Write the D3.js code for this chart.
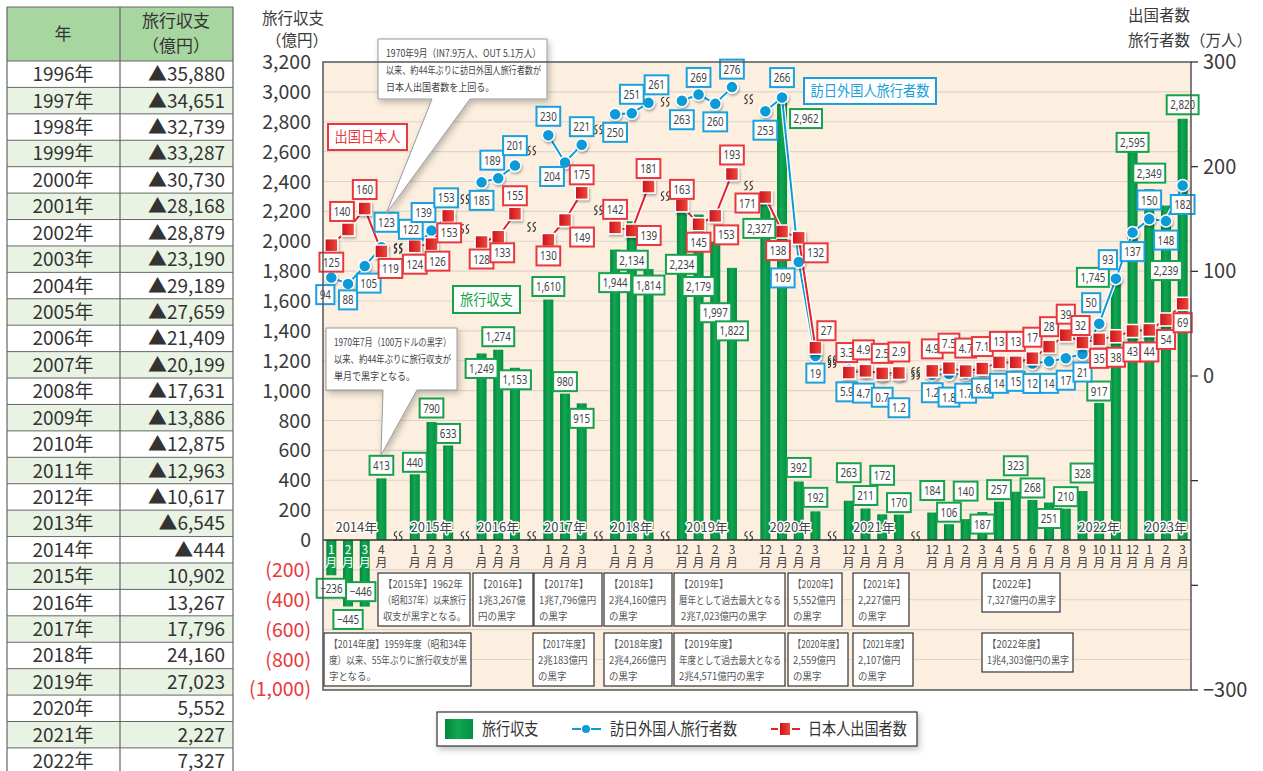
<!DOCTYPE html>
<html><head><meta charset="utf-8">
<script src="https://cdn.jsdelivr.net/npm/d3@7"></script>
<style>
body{margin:0;background:#fff;}
svg{display:block;font-family:"Noto Sans CJK JP","Noto Sans",sans-serif;}
</style></head><body>
<svg id="chart" width="1263" height="771"></svg>
<script>
//-----------------------------------------------------------------------------
// DATA
var tableYears = ["1996年","1997年","1998年","1999年","2000年","2001年","2002年","2003年","2004年",
  "2005年","2006年","2007年","2008年","2009年","2010年","2011年","2012年","2013年","2014年",
  "2015年","2016年","2017年","2018年","2019年","2020年","2021年","2022年"];
var tableBalance = ["▲35,880","▲34,651","▲32,739","▲33,287","▲30,730","▲28,168","▲28,879","▲23,190",
  "▲29,189","▲27,659","▲21,409","▲20,199","▲17,631","▲13,886","▲12,875","▲12,963","▲10,617",
  "▲6,545","▲444","10,902","13,267","17,796","24,160","27,023","5,552","2,227","7,327"];

var monthKeys = ["2014/1","2014/2","2014/3","2014/4",
  "2015/1","2015/2","2015/3",
  "2016/1","2016/2","2016/3",
  "2017/1","2017/2","2017/3",
  "2018/1","2018/2","2018/3",
  "2018/12","2019/1","2019/2","2019/3",
  "2019/12","2020/1","2020/2","2020/3",
  "2020/12","2021/1","2021/2","2021/3",
  "2021/12","2022/1","2022/2","2022/3","2022/4","2022/5","2022/6","2022/7","2022/8","2022/9",
  "2022/10","2022/11","2022/12","2023/1","2023/2","2023/3"];
var breakAfter = ["2014/4","2015/3","2016/3","2017/3","2018/3","2019/3","2020/3","2021/3"];

// 旅行収支（億円）
var balance = [-236,-445,-446,413, 440,790,633, 1249,1274,1153, 1610,980,915, 1944,2134,1814,
  2234,2179,1997,1822, 2327,2962,392,192, 263,211,172,170,
  184,106,140,187,257,323,268,251,210,328,917,1745,2595, 2349,2239,2820];
// 訪日外国人旅行者数（万人）
var visitors = [94,88,105,123, 122,139,153, 185,189,201, 230,204,221, 250,251,261,
  263,269,260,276, 253,266,109,19, 5.9,4.7,0.7,1.2,
  1.2,1.8,1.7,6.6,14,15,12,14,17,21,50,93,137, 150,148,182];
// 日本人出国者数（万人）
var outbound = [125,140,160,119, 124,126,153, 128,133,155, 130,149,175, 142,139,181,
  163,145,153,193, 171,138,132,27, 3.3,4.9,2.5,2.9,
  4.9,7.5,4.7,7.1,13,13,17,28,39,32,35,38,43, 44,54,69];

var yearLabels = [["2014年","2014/2","2014/3"],["2015年","2015/2","2015/2"],["2016年","2016/2","2016/2"],
  ["2017年","2017/2","2017/2"],["2018年","2018/2","2018/2"],["2019年","2019/1","2019/2"],
  ["2020年","2020/1","2020/2"],["2021年","2021/1","2021/2"],["2022年","2022/10","2022/10"],
  ["2023年","2023/2","2023/2"]];

var leftTicks = [3200,3000,2800,2600,2400,2200,2000,1800,1600,1400,1200,1000,800,600,400,200,0,
  -200,-400,-600,-800,-1000];
var rightTicks = [300,200,100,0,-100,-200,-300];
var rightLabelled = [300,200,100,0,-300];

var noteBoxes = [
  {x0:378,x1:470,y0:573,y1:626,lines:["【2015年】1962年","（昭和37年）以来旅行","収支が黒字となる。"]},
  {x0:473,x1:533,y0:573,y1:626,lines:["【2016年】","1兆3,267億","円の黒字"]},
  {x0:534,x1:602,y0:573,y1:626,lines:["【2017年】","1兆7,796億円","の黒字"]},
  {x0:604,x1:672,y0:573,y1:626,lines:["【2018年】","2兆4,160億円","の黒字"]},
  {x0:674,x1:785,y0:573,y1:626,lines:["【2019年】","暦年として過去最大となる"," 2兆7,023億円の黒字"]},
  {x0:788,x1:842,y0:573,y1:626,lines:["【2020年】","5,552億円","の黒字"]},
  {x0:853,x1:909,y0:573,y1:626,lines:["【2021年】","2,227億円","の黒字"]},
  {x0:982,x1:1060,y0:573,y1:612,lines:["【2022年】","7,327億円の黒字"]},
  {x0:324,x1:471,y0:633,y1:686,lines:["【2014年度】1959年度（昭和34年","度）以来、55年ぶりに旅行収支が黒","字となる。"]},
  {x0:533,x1:594,y0:633,y1:686,lines:["【2017年度】","2兆183億円","の黒字"]},
  {x0:604,x1:672,y0:633,y1:686,lines:["【2018年度】","2兆4,266億円","の黒字"]},
  {x0:674,x1:785,y0:633,y1:686,lines:["【2019年度】","年度として過去最大となる","2兆4,571億円の黒字"]},
  {x0:788,x1:848,y0:633,y1:686,lines:["【2020年度】","2,559億円","の黒字"]},
  {x0:853,x1:913,y0:633,y1:686,lines:["【2021年度】","2,107億円","の黒字"]},
  {x0:982,x1:1073,y0:633,y1:672,lines:["【2022年度】","1兆4,303億円の黒字"]}
];

//-----------------------------------------------------------------------------
// LABEL PLACEMENT (offsets from the mark, px)
var barLabelOff = [[0,13],[0,13],[-4,-15],[0,-13], [0,-12],[0,-14],[0,-12], [0,15],[0,-13],[0,12],
  [0,-13],[0,-12],[0,15], [0,33],[0,39],[0,16], [0,58],[0,72],[0,71],[0,63],
  [-6,36],[24,21],[0,-14],[0,-14], [0,-28],[0,-13],[0,-39],[0,-12],
  [0,-22],[0,-12],[0,-28],[0,12],[0,-12],[0,-26],[0,-12],[0,16],[0,-12],[0,-18],[0,-12],[-23,-2],[0,-10],
  [0,-16],[0,65],[0,-14]];
var visLabelOff = [[-6,17],[0,16],[4,17],[5,-25], [-4,-19],[-8,-18],[-2,-18], [0,18],[-6,-18],[0,-20],
  [0,-19],[-13,14],[0,-18], [0,18],[0,-19],[8,-18], [0,19],[0,-17],[0,18],[0,-18],
  [0,19],[0,-20],[-16,16],[0,17], [-2,22],[-2,22],[0,22],[0,33],
  [0,18],[0,23],[0,19],[0,19],[0,22],[0,21],[0,20],[0,22],[0,22],[0,18],[-8,-21],[-8,-19],[0,19],
  [0,-19],[0,19],[0,19]];
var outLabelOff = [[0,17],[-6,-18],[0,-19],[9,17], [0,18],[6,17],[1,17], [0,17],[4,16],[0,-18],
  [0,16],[17,17],[0,-18], [0,-18],[17,5],[0,-18], [0,-16],[0,18],[11,19],[0,-19],
  [-18,6],[-4,19],[17,15],[11,-17], [-2,-20],[-2,-21],[0,-20],[0,-21],
  [0,-22],[0,-25],[0,-23],[0,-22],[0,-21],[0,-21],[0,-21],[0,-20],[0,-21],[-2,-17],[0,19],[0,21],[0,21],
  [0,22],[0,20],[0,19]];

//-----------------------------------------------------------------------------
// SETUP
var GREEN = "#009a44", BLUE = "#0c9bd8", RED = "#e3222a";
var GREEN_B = "#17a14a", BLUE_B = "#1ca0dc", RED_B = "#e8383d";
var numFont = "'Noto Sans', sans-serif";
var P = {l:323, r:1191, t:62, b:690};

var svg = d3.select("#chart");
var defs = svg.append("defs");
defs.append("filter").attr("id","shadow").attr("x","-20%").attr("y","-20%").attr("width","150%").attr("height","170%")
  .append("feDropShadow").attr("dx",2).attr("dy",3).attr("stdDeviation",3)
  .attr("flood-color","#000").attr("flood-opacity",0.25);
defs.append("filter").attr("id","mshadow").attr("x","-50%").attr("y","-50%").attr("width","200%").attr("height","200%")
  .append("feDropShadow").attr("dx",1).attr("dy",2).attr("stdDeviation",1.3)
  .attr("flood-color","#000").attr("flood-opacity",0.3);
var gg = defs.append("linearGradient").attr("id","barGrad").attr("x1",0).attr("x2",1).attr("y1",0).attr("y2",0);
gg.append("stop").attr("offset","0%").attr("stop-color","#00873c");
gg.append("stop").attr("offset","45%").attr("stop-color","#13a652");
gg.append("stop").attr("offset","100%").attr("stop-color","#009142");
var rg = defs.append("linearGradient").attr("id","redGrad").attr("x1",0).attr("x2",1).attr("y1",0).attr("y2",0);
rg.append("stop").attr("offset","0%").attr("stop-color","#c8121c");
rg.append("stop").attr("offset","100%").attr("stop-color","#f04b3c");

function squeeze(t, f, maxW){
  var L = t.node().getComputedTextLength();
  var w = L*f;
  if (maxW && w > maxW) w = maxW;
  t.attr("textLength", w).attr("lengthAdjust","spacingAndGlyphs");
  return w;
}
// several lines in one text element, each line squeezed on its own
function multiLine(parent, x, y, step, lines, size, color, f, maxW){
  var t = parent.append("text").attr("font-size",size).attr("fill",color);
  lines.forEach(function(s,j){
    var ts = t.append("tspan").attr("x",x).attr("y",y+j*step).text(s);
    squeeze(ts, f, maxW);
  });
  return t;
}

//-----------------------------------------------------------------------------
// TABLE
var tb = svg.append("g");
var tX0 = 7, tX1 = 120, tX2 = 233, tY0 = 7, tHead = 61, rowH = 26.42;
tb.append("rect").attr("x",tX0).attr("y",tY0).attr("width",tX2-tX0).attr("height",tHead-tY0).attr("fill","#a8d6a0");
tableYears.forEach(function(yr,i){
  var y = tHead + i*rowH;
  tb.append("rect").attr("x",tX0).attr("y",y).attr("width",tX2-tX0).attr("height",rowH)
    .attr("fill", i%2 ? "#e8f3e3" : "#fff");
  tb.append("text").attr("x",63).attr("y",y+rowH/2+7).attr("text-anchor","middle")
    .attr("font-size",19).attr("fill","#333").text(yr);
  tb.append("text").attr("x",225).attr("y",y+rowH/2+7).attr("text-anchor","end")
    .attr("font-size",19).attr("fill","#333").text(tableBalance[i]);
  tb.append("line").attr("x1",tX0).attr("x2",tX2).attr("y1",y).attr("y2",y).attr("stroke","#666").attr("stroke-width",1);
});
[tX0,tX1,tX2].forEach(function(x){
  tb.append("line").attr("x1",x).attr("x2",x).attr("y1",tY0).attr("y2",800).attr("stroke","#666").attr("stroke-width",1.2);
});
tb.append("line").attr("x1",tX0).attr("x2",tX2).attr("y1",tY0).attr("y2",tY0).attr("stroke","#666").attr("stroke-width",1.2);
tb.append("text").attr("x",63).attr("y",40).attr("text-anchor","middle").attr("font-size",17).attr("fill","#333").text("年");
var th = tb.append("text").attr("text-anchor","middle").attr("font-size",17).attr("fill","#333");
th.append("tspan").attr("x",176).attr("y",27).text("旅行収支");
th.append("tspan").attr("x",176).attr("y",52).text("（億円）");

//-----------------------------------------------------------------------------
// SCALES
var slots = [];
var breakSlots = [];
monthKeys.forEach(function(k){
  slots.push(k);
  if (breakAfter.indexOf(k) >= 0){ var b = "brk" + breakSlots.length; breakSlots.push(b); slots.push(b); }
});
var x = d3.scaleBand().domain(slots).range([P.l, P.r]).padding(0);
var xc = function(k){ return x(k) + x.bandwidth()/2; };
var yL = d3.scaleLinear().domain([-1000, 3200]).range([689.4, 62]);
var yR = d3.scaleLinear().domain([-300, 300]).range([690, 62]);

//-----------------------------------------------------------------------------
// PLOT BACKGROUND + GRID
svg.append("rect").attr("x",P.l).attr("y",P.t).attr("width",P.r-P.l).attr("height",P.b-P.t).attr("fill","#fcefdf");
svg.append("g").selectAll("line").data(leftTicks.filter(function(v){ return v!==0 && v!==3200 && v!==-1000; }))
  .join("line").attr("x1",P.l).attr("x2",P.r).attr("y1",function(v){return yL(v);}).attr("y2",function(v){return yL(v);})
  .attr("stroke","#dcd5ce").attr("stroke-width",1.2);

// notes in the lower band
var nb = svg.append("g");
noteBoxes.forEach(function(n){
  nb.append("rect").attr("x",n.x0).attr("y",n.y0).attr("width",n.x1-n.x0).attr("height",n.y1-n.y0)
    .attr("fill","#fff").attr("stroke","#333").attr("stroke-width",1.2);
  multiLine(nb, n.x0+5, n.y0+14.5, 16, n.lines, 10.5, "#555", 0.9, n.x1-n.x0-9);
});

//-----------------------------------------------------------------------------
// BARS
var bw = 10;
svg.append("g").selectAll("rect").data(monthKeys).join("rect")
  .attr("x",function(k){ return xc(k)-bw/2; })
  .attr("y",function(k,i){ return yL(Math.max(0,balance[i])); })
  .attr("width",bw)
  .attr("height",function(k,i){ return Math.abs(yL(balance[i])-yL(0)); })
  .attr("fill","url(#barGrad)");

// x axis
svg.append("line").attr("x1",P.l).attr("x2",P.r).attr("y1",yL(0)).attr("y2",yL(0)).attr("stroke","#333").attr("stroke-width",1.5);
var xa = svg.append("g").attr("font-size",12).attr("text-anchor","middle");
monthKeys.forEach(function(k,i){
  var m = k.split("/")[1];
  var t = xa.append("text").attr("fill", balance[i] < 0 ? "#fff" : "#444");
  t.append("tspan").attr("x",xc(k)).attr("y",554).text(m);
  t.append("tspan").attr("x",xc(k)).attr("y",567).text("月");
});

function breakGlyph(g, cx, cy){
  [-2.6, 2.6].forEach(function(o){
    g.append("path").attr("d","M"+(cx+o+1.6)+","+(cy-4.5)+" C"+(cx+o-1.8)+","+(cy-4.5)+" "+(cx+o-1.8)+","+(cy-0.5)+" "+(cx+o)+","+(cy)
      +" C"+(cx+o+1.8)+","+(cy+0.5)+" "+(cx+o+1.8)+","+(cy+4.5)+" "+(cx+o-1.6)+","+(cy+4.5))
      .attr("fill","none").attr("stroke","#333").attr("stroke-width",1.1);
  });
}
var bg = svg.append("g");
breakSlots.forEach(function(b){ breakGlyph(bg, xc(b), 536); });

// year labels
svg.append("g").selectAll("text").data(yearLabels).join("text")
  .attr("x",function(d){ return (xc(d[1])+xc(d[2]))/2; }).attr("y",532)
  .attr("text-anchor","middle").attr("font-size",13).attr("fill","#444")
  .attr("stroke","#fff").attr("stroke-width",3).attr("paint-order","stroke").attr("stroke-linejoin","round")
  .text(function(d){ return d[0]; });

//-----------------------------------------------------------------------------
// LINES
var segs = [], cur = [];
monthKeys.forEach(function(k,i){ cur.push(i); if (breakAfter.indexOf(k) >= 0){ segs.push(cur); cur = []; } });
segs.push(cur);

function drawSeries(vals, color){
  var line = d3.line().x(function(i){ return xc(monthKeys[i]); }).y(function(i){ return yR(vals[i]); });
  var g = svg.append("g");
  g.selectAll("path.halo").data(segs).join("path").attr("class","halo").attr("d",line)
    .attr("fill","none").attr("stroke","#fff").attr("stroke-width",4.5);
  g.selectAll("path.ln").data(segs).join("path").attr("class","ln").attr("d",line)
    .attr("fill","none").attr("stroke",color).attr("stroke-width",2);
  // break glyphs between segments
  for (var j=0; j<segs.length-1; j++){
    var a = segs[j][segs[j].length-1], b = segs[j+1][0];
    breakGlyph(bg, xc(breakSlots[j]), yR((vals[a]+vals[b])/2));
  }
}
drawSeries(visitors, BLUE);
drawSeries(outbound, RED);

svg.append("g").attr("filter","url(#mshadow)").selectAll("circle").data(monthKeys).join("circle")
  .attr("cx",function(k){ return xc(k); }).attr("cy",function(k,i){ return yR(visitors[i]); })
  .attr("r",6).attr("fill",BLUE).attr("stroke","#fff").attr("stroke-width",1.5);
svg.append("g").attr("filter","url(#mshadow)").selectAll("rect").data(monthKeys).join("rect")
  .attr("x",function(k){ return xc(k)-6.5; }).attr("y",function(k,i){ return yR(outbound[i])-6.5; })
  .attr("width",13).attr("height",13).attr("fill","url(#redGrad)").attr("stroke","#fff").attr("stroke-width",1.5);

//-----------------------------------------------------------------------------
// VALUE LABELS
function valueBox(parent, cx, cy, text, color){
  var g = parent.append("g").attr("transform","translate("+cx+","+cy+")");
  var r = g.append("rect");
  var t = g.append("text").attr("text-anchor","middle").attr("y",4.5).attr("font-family",numFont)
    .attr("font-size",12.5).attr("fill","#444").text(text);
  var w = squeeze(t, 0.78);
  r.attr("x",-w/2-3.5).attr("y",-9.5).attr("width",w+7).attr("height",19)
    .attr("fill","#fff").attr("stroke",color).attr("stroke-width",2);
}
var lb = svg.append("g");
var fmt = d3.format(",");
monthKeys.forEach(function(k,i){
  var v = balance[i];
  valueBox(lb, xc(k)+barLabelOff[i][0], yL(v)+barLabelOff[i][1], fmt(v), GREEN_B);
});
monthKeys.forEach(function(k,i){
  valueBox(lb, xc(k)+visLabelOff[i][0], yR(visitors[i])+visLabelOff[i][1], String(visitors[i]), BLUE_B);
});
monthKeys.forEach(function(k,i){
  valueBox(lb, xc(k)+outLabelOff[i][0], yR(outbound[i])+outLabelOff[i][1], String(outbound[i]), RED_B);
});

//-----------------------------------------------------------------------------
// SERIES TAGS + CALLOUTS
function tag(x0,y0,w,h,text,color){
  svg.append("rect").attr("x",x0).attr("y",y0).attr("width",w).attr("height",h)
    .attr("fill","#fff").attr("stroke",color).attr("stroke-width",2);
  var t = svg.append("text").attr("x",x0+w/2).attr("y",y0+h/2+5).attr("text-anchor","middle")
    .attr("font-size",15).attr("fill",color).text(text);
  squeeze(t, 0.88);
}
tag(328,124,79,26,"出国日本人",RED_B);
tag(453,286,67,27,"旅行収支",GREEN_B);
tag(804,78,132,26,"訪日外国人旅行者数",BLUE_B);

function callout(x0,y0,x1,y1,ta,tb2,tip,lines){
  var d = "M"+x0+","+y0+" H"+x1+" V"+y1+" H"+tb2+" L"+tip[0]+","+tip[1]+" L"+ta+","+y1+" H"+x0+" Z";
  svg.append("path").attr("d",d).attr("fill","#fff").attr("stroke","#999").attr("stroke-width",1).attr("filter","url(#shadow)");
  multiLine(svg, x0+8, y0+18, 17, lines, 10.5, "#444", 0.86, x1-x0-14);
}
callout(378,39,547,99,432,470,[386,214],["1970年9月（IN7.9万人、OUT 5.1万人）","以来、約44年ぶりに訪日外国人旅行者数が","日本人出国者数を上回る。"]);
callout(326,328,457,390,383,417,[381,455],["1970年7月（100万ドルの黒字）","以来、約44年ぶりに旅行収支が","単月で黒字となる。"]);

//-----------------------------------------------------------------------------
// FRAME + AXES
svg.append("rect").attr("x",P.l).attr("y",P.t).attr("width",P.r-P.l).attr("height",P.b-P.t)
  .attr("fill","none").attr("stroke","#555").attr("stroke-width",1.5);

svg.append("g").selectAll("text").data(leftTicks).join("text")
  .attr("x",311).attr("y",function(v){ return yL(v)+7; }).attr("text-anchor","end")
  .attr("font-size",19.5).attr("fill",function(v){ return v<0 ? "#e8383d" : "#3a3a3a"; })
  .text(function(v){ return v<0 ? "("+fmt(-v)+")" : fmt(v); });

var ra = svg.append("g");
ra.selectAll("line").data(rightTicks).join("line")
  .attr("x1",P.r).attr("x2",P.r+7).attr("y1",function(v){return yR(v);}).attr("y2",function(v){return yR(v);})
  .attr("stroke","#333").attr("stroke-width",1.3);
ra.selectAll("text").data(rightLabelled).join("text")
  .attr("x",P.r+12).attr("y",function(v){ return yR(v)+7; }).attr("font-size",20).attr("fill","#3a3a3a")
  .text(function(v){ return v<0 ? "−"+(-v) : v; });

var lt = svg.append("text").attr("font-size",15.5).attr("fill","#3a3a3a");
lt.append("tspan").attr("x",262).attr("y",24).text("旅行収支");
lt.append("tspan").attr("x",266).attr("y",46).text("（億円）");
var rt = svg.append("text").attr("font-size",15.5).attr("fill","#3a3a3a");
rt.append("tspan").attr("x",1128).attr("y",21).text("出国者数");
rt.append("tspan").attr("x",1128).attr("y",46).text("旅行者数（万人）");

//-----------------------------------------------------------------------------
// LEGEND
var lg = svg.append("g");
lg.append("rect").attr("x",437).attr("y",712).attr("width",480).attr("height",34)
  .attr("fill","#fff").attr("stroke","#333").attr("stroke-width",1.2).attr("filter","url(#shadow)");
lg.append("rect").attr("x",445).attr("y",719).attr("width",28).attr("height",20).attr("fill","url(#barGrad)");
lg.append("line").attr("x1",572).attr("x2",601).attr("y1",729).attr("y2",729).attr("stroke",BLUE).attr("stroke-width",2);
lg.append("line").attr("x1",581).attr("x2",591).attr("y1",729).attr("y2",729).attr("stroke","#fff").attr("stroke-width",2);
lg.append("circle").attr("cx",586).attr("cy",729).attr("r",4).attr("fill",BLUE);
lg.append("line").attr("x1",771).attr("x2",800).attr("y1",729).attr("y2",729).attr("stroke",RED).attr("stroke-width",2);
lg.append("line").attr("x1",778).attr("x2",792).attr("y1",729).attr("y2",729).attr("stroke","#fff").attr("stroke-width",2);
lg.append("rect").attr("x",780).attr("y",723).attr("width",10).attr("height",12).attr("fill","url(#redGrad)");
[[482,"旅行収支"],[610,"訪日外国人旅行者数"],[808,"日本人出国者数"]].forEach(function(d){
  var t = lg.append("text").attr("x",d[0]).attr("y",735).attr("font-size",17).attr("fill","#333").text(d[1]);
  squeeze(t, 0.83);
});
</script>
</body></html>
